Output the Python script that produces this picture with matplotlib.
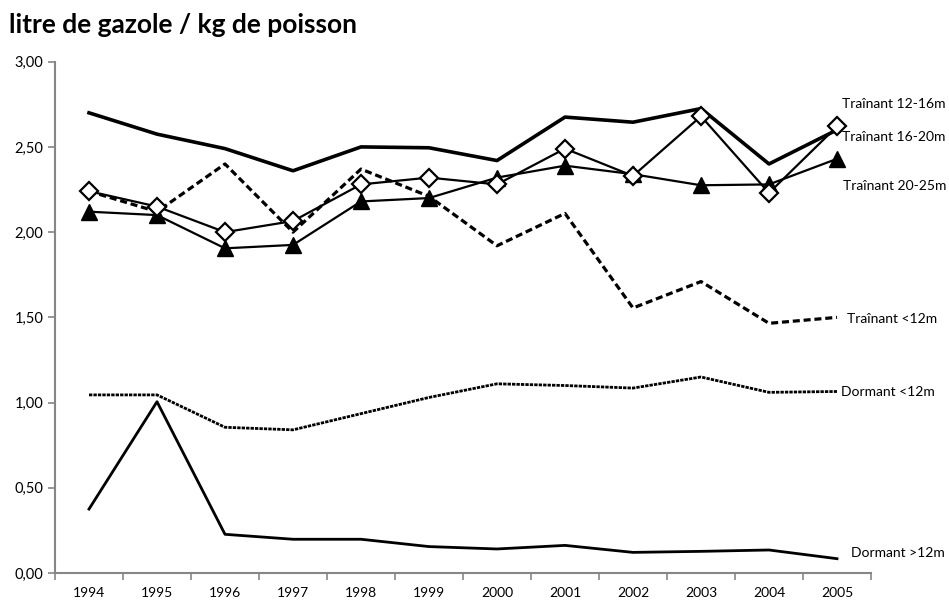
import matplotlib
matplotlib.use("Agg")
from matplotlib import pyplot as plt
from matplotlib.ticker import FuncFormatter
import numpy as np

plt.rcParams['font.family'] = ['Lato', 'DejaVu Sans']

years = ["1994", "1995", "1996", "1997", "1998", "1999",
         "2000", "2001", "2002", "2003", "2004", "2005"]

trainant_12_16 = [2.70, 2.575, 2.49, 2.36, 2.50, 2.495, 2.42, 2.675, 2.645, 2.725, 2.40, 2.60]
trainant_16_20 = [2.24, 2.15, 2.00, 2.065, 2.28, 2.32, 2.28, 2.49, 2.33, 2.68, 2.23, 2.62]
trainant_20_25 = [2.12, 2.10, 1.905, 1.925, 2.18, 2.20, 2.32, 2.39, 2.34, 2.275, 2.28, 2.43]
trainant_lt12 = [2.24, 2.12, 2.40, 2.00, 2.37, 2.21, 1.92, 2.11, 1.555, 1.71, 1.465, 1.50]
dormant_lt12 = [1.045, 1.045, 0.855, 0.84, 0.935, 1.03, 1.11, 1.10, 1.085, 1.15, 1.06, 1.065]
dormant_gt12 = [0.375, 1.005, 0.227, 0.198, 0.198, 0.155, 0.141, 0.162, 0.121, 0.127, 0.135, 0.084]

labels = ["Traînant 12-16m", "Traînant 16-20m", "Traînant 20-25m",
          "Traînant <12m", "Dormant <12m", "Dormant >12m"]
label_y = [2.75, 2.56, 2.27, 1.49, 1.06, 0.12]
label_x = [11.08, 11.08, 11.09, 11.15, 11.06, 11.2]

x = np.arange(len(years))

fig = plt.figure(figsize=(9.49, 6.03), dpi=100)
ax = fig.add_axes([55 / 949, 30 / 603, 816 / 949, 511.3 / 603])

ax.plot(x, dormant_gt12, color="black", lw=2.0, zorder=2)
ax.plot(x, dormant_lt12, color="black", lw=2.0, ls=(0, (1.2, 0.4)), zorder=2)
ax.plot(x, trainant_lt12, color="black", lw=2.3, ls=(0, (2.2, 1.2)), zorder=2)
ax.plot(x, trainant_12_16, color="black", lw=2.6, zorder=3)
ax.plot(x, trainant_20_25, color="black", lw=1.6, marker="^", ms=12,
        mfc="black", mec="black", zorder=4)
ax.plot(x, trainant_16_20, color="black", lw=1.6, marker="D", ms=9,
        mfc="white", mec="black", mew=1.6, zorder=5)

for lab, lx, ly in zip(labels, label_x, label_y):
    ax.text(lx, ly, lab, fontsize=10, va="center", ha="left", clip_on=False)

ax.set_xlim(-0.5, 11.5)
ax.set_ylim(0, 3.0)
ax.set_yticks(np.arange(0, 3.01, 0.5))
ax.yaxis.set_major_formatter(FuncFormatter(lambda v, p: f"{v:.2f}".replace(".", ",")))
ax.set_xticks(np.arange(-0.5, 12, 1))
ax.set_xticklabels([])
ax.set_xticks(x, minor=True)
ax.set_xticklabels(years, minor=True)
ax.tick_params(axis="x", which="minor", length=0, pad=10, labelsize=10)
ax.tick_params(axis="x", which="major", length=5, color="#868686", width=1.2)
ax.tick_params(axis="y", length=5, color="#868686", width=1.2, labelsize=10.5)

for s in ["top", "right"]:
    ax.spines[s].set_visible(False)
for s in ["left", "bottom"]:
    ax.spines[s].set_color("#868686")
    ax.spines[s].set_linewidth(1.5)

fig.text(9 / 949, 1 - 25 / 603, "litre de gazole / kg de poisson",
         fontsize=19, fontweight="bold", va="center", ha="left")

fig.savefig("out.png", dpi=100)
